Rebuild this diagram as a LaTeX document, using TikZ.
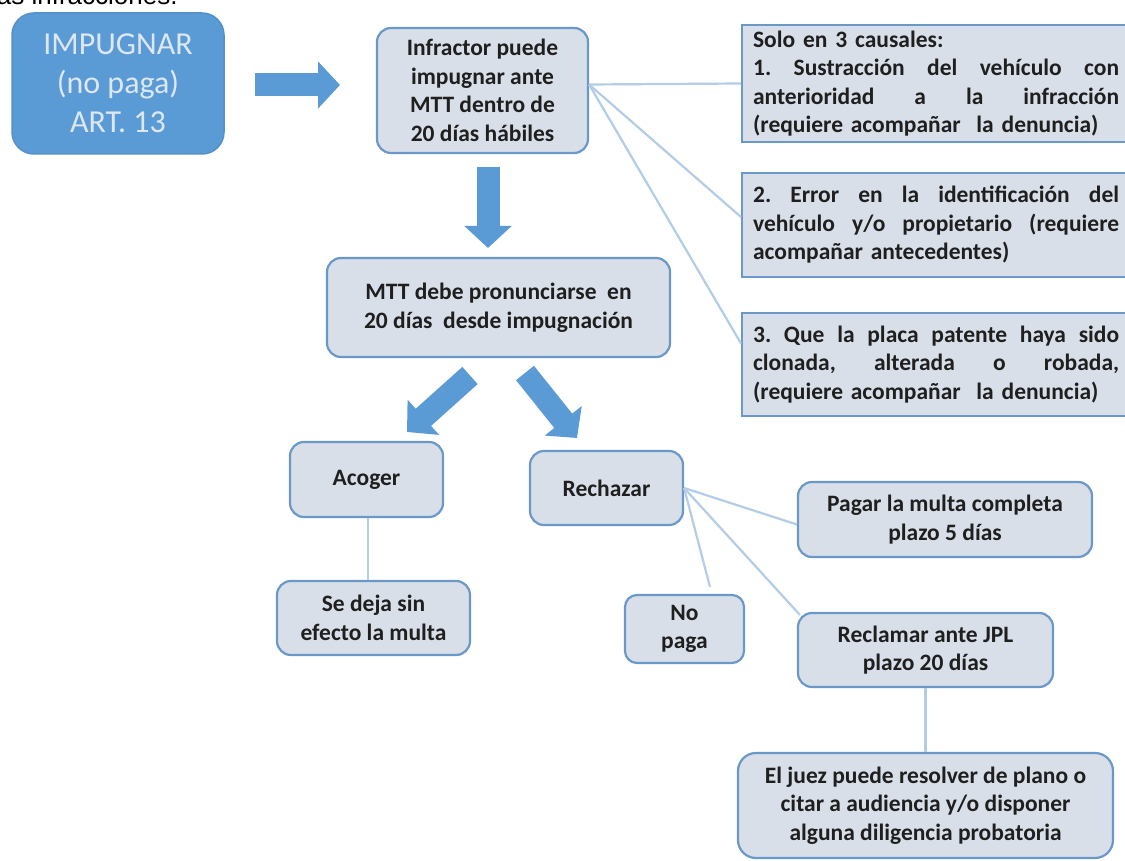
\documentclass[tikz,border=0pt]{standalone}
\usepackage{fontspec}
\setmainfont{Carlito}
\newfontfamily\arialfont{Liberation Sans}
\usetikzlibrary{arrows.meta,calc}
\definecolor{boxfill}{HTML}{D9DFE9}
\definecolor{boxline}{HTML}{6A98C8}
\definecolor{bluefill}{HTML}{5B9BD5}
\definecolor{blueedge}{HTML}{5590CA}
\definecolor{bluetext}{HTML}{DDE7F2}
\definecolor{linkblue}{HTML}{B3CDE6}
\definecolor{txt}{HTML}{1F1F1F}
\newcommand{\jline}[1]{\leavevmode\hbox to 366pt{#1}}
\begin{document}
\begin{tikzpicture}[x=1pt,y=-1pt,
  box/.style={draw=boxline, line width=2.2pt, fill=boxfill, rounded corners=14pt,
    text=txt, font=\bfseries\fontsize{23.5}{28.5}\selectfont, align=center, inner sep=0pt},
  cbox/.style={draw=boxline, line width=2.2pt, fill=boxfill, text=txt,
    font=\bfseries\fontsize{23.5}{28.5}\selectfont, text width=366pt, align=left,
    inner xsep=11pt, inner ysep=0pt, anchor=west},
  mainbox/.style={draw=blueedge, line width=1.5pt, fill=bluefill, rounded corners=22pt,
    text=bluetext, font=\fontsize{32}{39}\selectfont, align=center, inner sep=0pt},
  link/.style={draw=linkblue, line width=2.2pt},
  fatarrow/.style={draw=bluefill, line width=23pt, -{Triangle[length=22pt,width=46pt]}}
]
\useasboundingbox (0,0) rectangle (1125,861);
\fill[white] (0,0) rectangle (1125,861);
\clip (0,0) rectangle (1125,861);

\node[anchor=base west, inner sep=0pt, font=\arialfont\fontsize{26}{30}\selectfont] (toptext) at (-9,5) {las infracciones.};

% boxes
\node[mainbox, minimum width=212pt, minimum height=141pt] (imp) at (118,83.5) {IMPUGNAR\\(no paga)\\ART. 13};
\node[box, minimum width=211pt, minimum height=125pt] (infr) at (482.5,90.5) {Infractor puede\\impugnar ante\\MTT dentro de\\20 días hábiles};
\node[box, minimum width=343pt, minimum height=99pt] (mtt) at (498.5,307.5) {MTT debe pronunciarse\ \ en\\20 días\ \ desde impugnación};
\node[box, minimum width=153pt, minimum height=75pt] (acog) at (366.5,479.5) {Acoger};
\node[box, minimum width=153pt, minimum height=74pt] (rech) at (606.5,488) {Rechazar};
\node[box, minimum width=193pt, minimum height=74pt] (sedeja) at (373.5,618) {Se deja sin\\efecto la multa};
\node[box, minimum width=119pt, minimum height=68pt, rounded corners=12pt] (nopaga) at (684.5,629) {No\\paga};
\node[box, minimum width=294pt, minimum height=75pt] (pag) at (945,519.5) {Pagar la multa completa\\plazo 5 días};
\node[box, minimum width=255pt, minimum height=74pt] (recl) at (925.5,650) {Reclamar ante JPL\\plazo 20 días};
\node[box, minimum width=375pt, minimum height=105pt, rounded corners=18pt] (juez) at (925.5,805.5) {El juez puede resolver de plano o\\citar a audiencia y/o disponer\\alguna diligencia probatoria};

\node[cbox, minimum height=117pt] (c1) at (741,83.5) {Solo en 3 causales:\\
  \jline{1.\hfill Sustracción\hfill del\hfill vehículo\hfill con}\\
  \jline{anterioridad\hfill a\hfill la\hfill infracción}\\
  (requiere acompañar\ \ la denuncia)};
\node[cbox, minimum height=104pt] (c2) at (741,225) {%
  \jline{2.\hfill Error\hfill en\hfill la\hfill identificación\hfill del}\\
  \jline{vehículo\hfill y/o\hfill propietario\hfill (requiere}\\
  acompañar antecedentes)};
\node[cbox, minimum height=103pt] (c3) at (741,364.5) {%
  \jline{3.\hfill Que\hfill la\hfill placa\hfill patente\hfill haya\hfill sido}\\
  \jline{clonada,\hfill alterada\hfill o\hfill robada,}\\
  (requiere acompañar\ \ la denuncia)};

% thin connectors
\draw[link] ([yshift=6pt]infr.east) -- (c1.west);
\draw[link] ([yshift=6pt]infr.east) -- ([yshift=8pt]c2.west);
\draw[link] ([yshift=6pt]infr.east) -- ([yshift=21pt]c3.west);
\draw[link] ([xshift=1.5pt]acog.south) -- ([xshift=1.5pt]acog.south |- sedeja.north);
\coordinate (npend) at (710,587);
\draw[link] (rech.east) -- ([yshift=-5pt]pag.west);
\draw[link] (rech.east) -- (npend);
\draw[link] (rech.east) -- ([xshift=3pt,yshift=-3pt]recl.north west);
\draw[link] (recl.south) -- (recl.south |- juez.north);

% block arrows
\coordinate (a1s) at (255,85); \coordinate (a1e) at (340,85);
\coordinate (a2s) at (488,167); \coordinate (a2e) at (488,248);
\coordinate (a3s) at (470,375.5); \coordinate (a3e) at (407,432);
\coordinate (a4s) at (525,373); \coordinate (a4e) at (577,438);
\draw[fatarrow] (a1s) -- (a1e);
\draw[fatarrow] (a2s) -- (a2e);
\draw[fatarrow] (a3s) -- (a3e);
\draw[fatarrow] (a4s) -- (a4e);
\end{tikzpicture}
\end{document}
